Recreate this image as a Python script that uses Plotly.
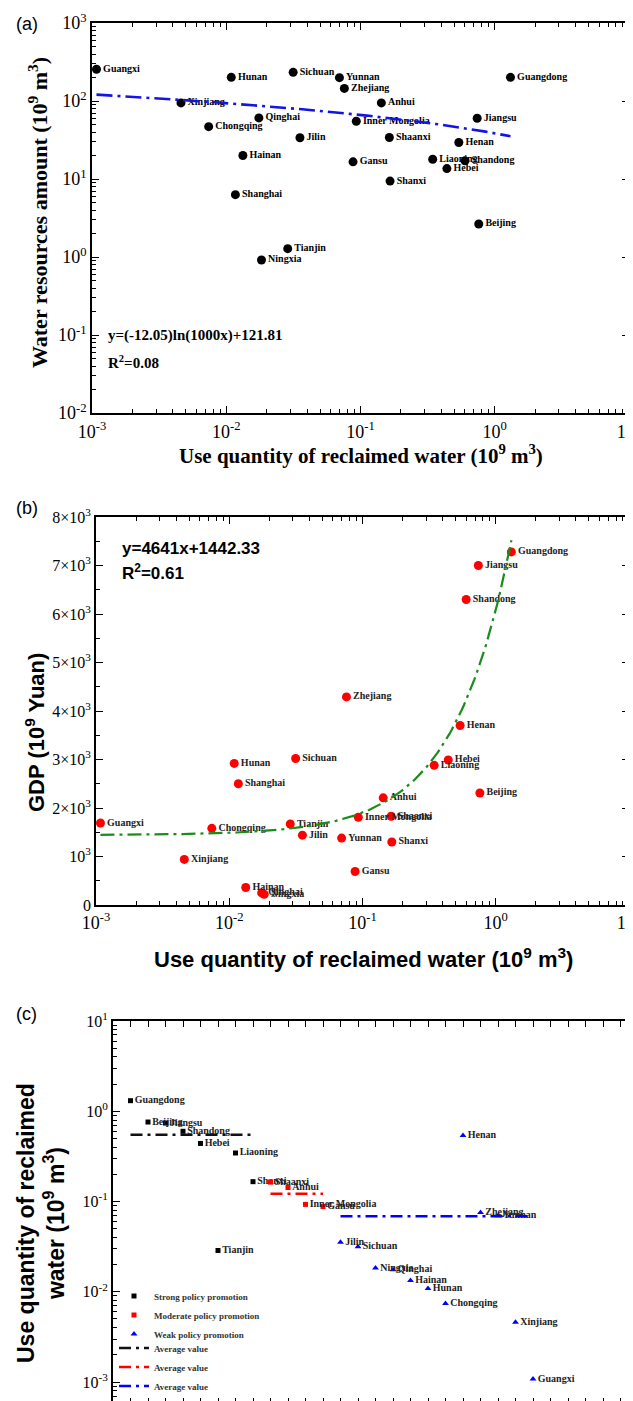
import numpy as np
import plotly.graph_objects as go

W, H = 633, 1401
SERIF = "Liberation Serif"
SANS = "Liberation Sans"

# ---------------- data ----------------
# provinces in the order used by panel (c); Shanghai appears only in (a) and (b)
provinces = ["Guangdong", "Beijing", "Jiangsu", "Shandong", "Hebei", "Tianjin",
             "Liaoning", "Shanxi", "Shaanxi", "Anhui", "Inner Mongolia", "Gansu",
             "Jilin", "Sichuan", "Ningxia", "Qinghai", "Hainan", "Hunan",
             "Chongqing", "Henan", "Zhejiang", "Yunnan", "Xinjiang", "Guangxi",
             "Shanghai"]
# use quantity of reclaimed water (10^9 m^3)
reclaimed = [1.31, 0.76, 0.74, 0.60, 0.44, 0.0287,
             0.345, 0.166, 0.164, 0.143, 0.093, 0.088,
             0.0354, 0.0315, 0.0183, 0.0175, 0.0133, 0.0109,
             0.0074, 0.54, 0.0758, 0.0697, 0.0046, 0.00108,
             0.0117]
# water resources amount (10^9 m^3)
water_resources = [201, 2.65, 60, 17.1, 13.6, 1.28,
                   17.9, 9.4, 34, 94.6, 55, 16.6,
                   33.8, 233, 0.916, 60.7, 20, 201,
                   46.9, 29.4, 145, 199, 94.6, 255,
                   6.3]
# GDP (10^9 Yuan)
gdp = [7280, 2310, 7000, 6300, 2990, 1670,
       2880, 1300, 1830, 2210, 1810, 690,
       1440, 3020, 220, 250, 360, 2920,
       1580, 3700, 4290, 1380, 940, 1690,
       2500]
# policy promotion class (panel c)
policy = ["Strong"] * 8 + ["Moderate"] * 4 + ["Weak"] * 12 + [""]

policy_names = ["Strong", "Moderate", "Weak"]
policy_labels = ["Strong policy promotion", "Moderate policy promotion", "Weak policy promotion"]
policy_colors = ["black", "#ff0000", "#0000ff"]
policy_symbols = ["square", "square", "triangle-up"]

# regression equations shown on the chart
fit_a_coef = (-12.05, 121.81)   # y = a*ln(1000x) + b
fit_b_coef = (4641.0, 1442.33)  # y = a*x + b

log_x_ticks = [1e-3, 1e-2, 1e-1, 1, 10]
log_x_text = ["10<sup>-3</sup>", "10<sup>-2</sup>", "10<sup>-1</sup>", "10<sup>0</sup>", "10<sup>1</sup>"]
a_y_ticks = [1e-2, 1e-1, 1, 10, 100, 1000]
a_y_text = ["10<sup>-2</sup>", "10<sup>-1</sup>", "10<sup>0</sup>", "10<sup>1</sup>", "10<sup>2</sup>", "10<sup>3</sup>"]
b_y_ticks = [0, 1000, 2000, 3000, 4000, 5000, 6000, 7000, 8000]
b_y_text = ["0", "10<sup>3</sup>", "2×10<sup>3</sup>", "3×10<sup>3</sup>", "4×10<sup>3</sup>",
            "5×10<sup>3</sup>", "6×10<sup>3</sup>", "7×10<sup>3</sup>", "8×10<sup>3</sup>"]
c_y_ticks = [1e-3, 1e-2, 1e-1, 1, 10]
c_y_text = ["10<sup>-3</sup>", "10<sup>-2</sup>", "10<sup>-1</sup>", "10<sup>0</sup>", "10<sup>1</sup>"]


# ---------------- helpers ----------------
def px(p):
    return p / W


def py(p):
    return 1 - p / H


def log_minor(lo, hi):
    return [k * 10.0 ** d for d in range(lo, hi) for k in range(2, 10)]


common = dict(showline=True, linecolor="black", linewidth=1.8, mirror="allticks",
              ticks="inside", tickcolor="black", tickwidth=1.3, showgrid=False,
              zeroline=False, automargin=False, ticklabeloverflow="allow")

fig = go.Figure()

# ---------------- panel (a) ----------------
fig.add_trace(go.Scatter(
    x=reclaimed, y=water_resources, mode="markers+text", text=provinces,
    textposition="middle right", cliponaxis=False,
    marker=dict(color="black", size=9),
    textfont=dict(family=SERIF, size=10, color="black", weight="bold"),
    showlegend=False, xaxis="x", yaxis="y"))
xa = np.logspace(np.log10(min(reclaimed)), np.log10(max(reclaimed)), 200)
fig.add_trace(go.Scatter(
    x=xa, y=fit_a_coef[0] * np.log(1000 * xa) + fit_a_coef[1], mode="lines",
    line=dict(color="#1414e6", width=2.6, dash="16px,5px,3px,5px"),
    showlegend=False, xaxis="x", yaxis="y"))

# ---------------- panel (b) ----------------
fig.add_trace(go.Scatter(
    x=reclaimed, y=gdp, mode="markers+text", text=provinces,
    textposition="middle right", cliponaxis=False,
    marker=dict(color="#ff0000", size=9),
    textfont=dict(family=SERIF, size=10, color="#222222", weight="bold"),
    showlegend=False, xaxis="x2", yaxis="y2"))
xb = np.logspace(np.log10(min(reclaimed)), np.log10(max(reclaimed)), 200)
fig.add_trace(go.Scatter(
    x=xb, y=fit_b_coef[0] * xb + fit_b_coef[1], mode="lines",
    line=dict(color="#1a8c1a", width=2.2, dash="14px,5px,3px,5px"),
    showlegend=False, xaxis="x2", yaxis="y2"))

# ---------------- panel (c) ----------------
group_info = []
for g, lab, col, sym in zip(policy_names, policy_labels, policy_colors, policy_symbols):
    idx = [i for i, p in enumerate(policy) if p == g]
    xs = [i + 1 for i in idx]
    ys = [reclaimed[i] for i in idx]
    names = [provinces[i] for i in idx]
    group_info.append((xs, ys, col))
    fig.add_trace(go.Scatter(
        x=xs, y=ys, mode="markers+text", text=names, textposition="middle right",
        cliponaxis=False,
        marker=dict(color=col, size=6 if sym == "triangle-up" else 5, symbol=sym),
        textfont=dict(family=SERIF, size=10, color="#222222", weight="bold"),
        showlegend=False, xaxis="x3", yaxis="y3"))

# legend entries for the three policy classes
for g, lab, col, sym in zip(policy_names, policy_labels, policy_colors, policy_symbols):
    fig.add_trace(go.Scatter(
        x=[None], y=[None], mode="markers", name="<b>" + lab + "</b>",
        marker=dict(color=col, size=6 if sym == "triangle-up" else 5, symbol=sym),
        legend="legend", xaxis="x3", yaxis="y3"))

for xs, ys, col in group_info:
    m = float(np.mean(ys))
    fig.add_trace(go.Scatter(
        x=[xs[0], xs[-1]], y=[m, m], mode="lines", name="<b>Average value</b>",
        line=dict(color=col if col != "black" else "#111111", width=2.4,
                  dash="12px,5px,3px,5px"),
        legend="legend2", xaxis="x3", yaxis="y3"))

# ---------------- axes ----------------
legend_common = dict(xanchor="left", yanchor="middle", bgcolor="rgba(0,0,0,0)",
                     borderwidth=0, tracegroupgap=0,
                     font=dict(family=SERIF, size=9, color="#333333"))

fig.update_layout(
    template="none",
    width=W, height=H, margin=dict(l=0, r=0, t=0, b=0, pad=0, autoexpand=False),
    paper_bgcolor="white", plot_bgcolor="white",
    xaxis=dict(domain=[px(84), px(621)], type="log", range=[-3, 1], anchor="y",
               tickvals=log_x_ticks, ticktext=log_x_text, ticklen=7,
               ticklabelstandoff=1,
               tickfont=dict(family=SERIF, size=18, color="black"),
               minor=dict(tickvals=log_minor(-3, 1), ticks="inside", ticklen=4,
                          tickcolor="black", tickwidth=1),
               **common),
    yaxis=dict(domain=[py(405), py(15)], type="log", range=[-2, 3], anchor="x",
               tickvals=a_y_ticks, ticktext=a_y_text, ticklen=7,
               tickfont=dict(family=SERIF, size=18, color="black"),
               minor=dict(tickvals=log_minor(-2, 3), ticks="inside", ticklen=4,
                          tickcolor="black", tickwidth=1),
               **common),
    xaxis2=dict(domain=[px(88), px(621)], type="log", range=[-3, 1], anchor="y2",
                tickvals=log_x_ticks, ticktext=log_x_text, ticklen=7,
                tickfont=dict(family=SERIF, size=18, color="black"),
                minor=dict(tickvals=log_minor(-3, 1), ticks="inside", ticklen=4,
                           tickcolor="black", tickwidth=1),
                **common),
    yaxis2=dict(domain=[py(897), py(509)], range=[0, 8000], anchor="x2",
                tickvals=b_y_ticks, ticktext=b_y_text, ticklen=7,
                tickfont=dict(family=SERIF, size=16, color="black"),
                minor=dict(dtick=500, tick0=0, ticks="inside", ticklen=4,
                           tickcolor="black", tickwidth=1),
                **common),
    xaxis3=dict(domain=[px(105), px(630)], range=[0, 30], anchor="y3",
                tickmode="linear", tick0=0, dtick=1, ticklen=6,
                showticklabels=False, **common),
    yaxis3=dict(domain=[py(1396), py(1013)], type="log", range=[-3.243, 1], anchor="x3",
                tickvals=c_y_ticks, ticktext=c_y_text, ticklen=7,
                tickfont=dict(family=SERIF, size=16, color="black"),
                minor=dict(tickvals=log_minor(-4, 1), ticks="inside", ticklen=4,
                           tickcolor="black", tickwidth=1),
                **common),
    showlegend=True,
    legend=dict(x=px(106), y=py(1307), **legend_common),
    legend2=dict(x=px(106), y=py(1359), **legend_common),
)

# ---------------- text annotations ----------------
ann = []


def add_text(text, x, y, size, family, angle=0, xanchor="center", yanchor="middle"):
    ann.append(dict(text=text, x=px(x), y=py(y), xref="paper", yref="paper",
                    showarrow=False, textangle=angle, xanchor=xanchor, yanchor=yanchor,
                    font=dict(family=family, size=size, color="black")))


add_text("(a)", 19, 16, 18, SANS)
add_text("(b)", 19, 500, 18, SANS)
add_text("(c)", 18, 1006, 18, SANS)

add_text("<b>Water resources amount (10<sup>9</sup> m<sup>3</sup>)</b>", 30, 205, 22, SERIF, angle=-90)
add_text("<b>Use quantity of reclaimed water (10<sup>9</sup> m<sup>3</sup>)</b>", 353, 446, 21, SERIF)
add_text("<b>y=(-12.05)ln(1000x)+121.81</b>", 98, 327, 15, SERIF, xanchor="left")
add_text("<b>R<sup>2</sup>=0.08</b>", 98, 354, 15, SERIF, xanchor="left")

add_text("<b>GDP (10<sup>9</sup> Yuan)</b>", 27, 725, 22, SANS, angle=-90)
add_text("<b>Use quantity of reclaimed water (10<sup>9</sup> m<sup>3</sup>)</b>", 355, 950, 22, SANS)
add_text("<b>y=4641x+1442.33</b>", 112, 540, 17, SANS, xanchor="left")
add_text("<b>R<sup>2</sup>=0.61</b>", 112, 564, 17, SANS, xanchor="left")

add_text("<b>Use quantity of reclaimed<br>water (10<sup>9</sup> m<sup>3</sup>)</b>", 33, 1215, 23, SANS, angle=-90)

fig.update_layout(annotations=ann)

fig.write_html("out.html")
